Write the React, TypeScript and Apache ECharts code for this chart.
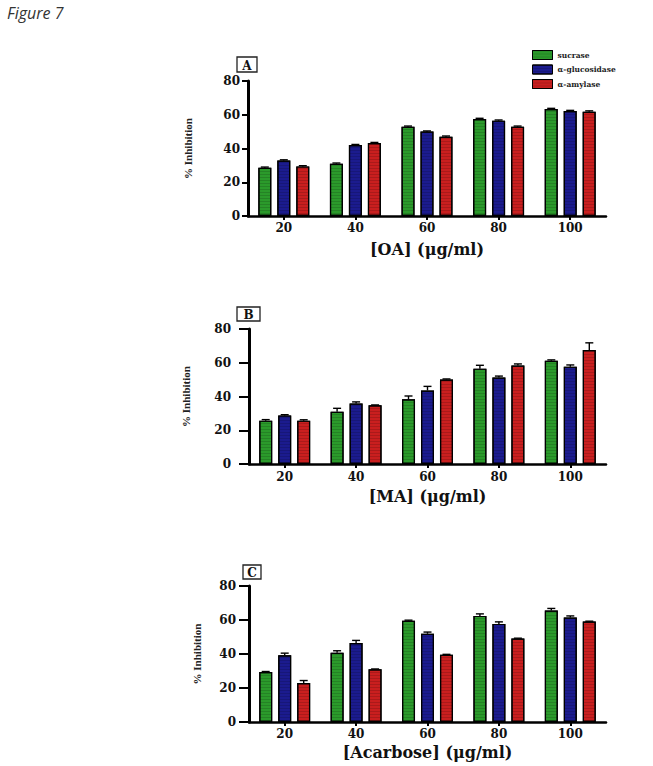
import React, { useEffect, useRef } from "react";
import * as echarts from "echarts";

const categories = ["20", "40", "60", "80", "100"];
const seriesNames = ["sucrase", "α-glucosidase", "α-amylase"];
const yTicks = [0, 20, 40, 60, 80];

// Panel A: OA
const oaSucrase = [28.6, 31.0, 52.9, 57.5, 63.4];
const oaGlucosidase = [32.9, 42.0, 50.0, 56.5, 62.2];
const oaAmylase = [29.4, 43.2, 47.0, 52.9, 61.8];
const oaSucraseErr = [0.4, 0.4, 0.4, 0.4, 0.4];
const oaGlucosidaseErr = [0.4, 0.4, 0.4, 0.4, 0.4];
const oaAmylaseErr = [0.4, 0.4, 0.4, 0.4, 0.5];

// Panel B: MA
const maSucrase = [25.7, 31.0, 38.3, 56.5, 61.2];
const maGlucosidase = [28.8, 35.8, 43.6, 51.3, 57.7];
const maAmylase = [25.7, 34.8, 50.1, 58.3, 67.5];
const maSucraseErr = [0.6, 2.0, 2.0, 2.0, 0.5];
const maGlucosidaseErr = [0.4, 1.0, 2.4, 0.8, 1.0];
const maAmylaseErr = [0.5, 0.2, 0.3, 1.0, 4.3];

// Panel C: Acarbose
const acSucrase = [29.4, 40.7, 59.6, 62.4, 65.6];
const acGlucosidase = [39.3, 46.4, 51.9, 57.7, 61.4];
const acAmylase = [22.9, 31.0, 39.5, 49.1, 59.1];
const acSucraseErr = [0.3, 1.2, 0.3, 1.2, 1.2];
const acGlucosidaseErr = [1.2, 1.6, 1.0, 1.2, 1.0];
const acAmylaseErr = [1.5, 0.2, 0.3, 0.2, 0.2];

const colors = ["#2b9a2b", "#1b1b8e", "#c91f1f"];
const BAR_W = 13;
const BAR_STEP = 19;

const panels = [
  {
    label: "A",
    xName: "[OA] (μg/ml)",
    grid: { left: 248, top: 81, width: 358, height: 135 },
    box: { x: 237, y: 57, w: 20, h: 15 },
    values: [oaSucrase, oaGlucosidase, oaAmylase],
    errs: [oaSucraseErr, oaGlucosidaseErr, oaAmylaseErr],
    yName: 55, tickLen: 6, labelMargin: 8, xLabelMargin: 6, xNameGap: 25,
  },
  {
    label: "B",
    xName: "[MA] (μg/ml)",
    grid: { left: 249, top: 329, width: 357, height: 135 },
    box: { x: 237, y: 307, w: 23, h: 14 },
    values: [maSucrase, maGlucosidase, maAmylase],
    errs: [maSucraseErr, maGlucosidaseErr, maAmylaseErr],
    yName: 58, tickLen: 10, labelMargin: 18, xLabelMargin: 7, xNameGap: 24,
  },
  {
    label: "C",
    xName: "[Acarbose] (μg/ml)",
    grid: { left: 249, top: 586, width: 357, height: 136 },
    box: { x: 243, y: 565, w: 18, h: 14 },
    values: [acSucrase, acGlucosidase, acAmylase],
    errs: [acSucraseErr, acGlucosidaseErr, acAmylaseErr],
    yName: 47, tickLen: 10, labelMargin: 13, xLabelMargin: 6, xNameGap: 22,
  },
];

const serif = "DejaVu Serif";

export default function App() {
  const ref = useRef<HTMLDivElement>(null);
  useEffect(() => {
    if (!ref.current) return;
    const chart = echarts.init(ref.current, null, { renderer: "svg" });
    const grids: any[] = [];
    const xAxes: any[] = [];
    const yAxes: any[] = [];
    const series: any[] = [];
    const graphics: any[] = [];

    panels.forEach((p, pi) => {
      grids.push({ ...p.grid, containLabel: false });
      xAxes.push({
        type: "category",
        gridIndex: pi,
        data: categories,
        name: p.xName,
        nameLocation: "middle",
        nameGap: p.xNameGap,
        nameTextStyle: { fontFamily: serif, fontWeight: "bold", fontSize: 16, color: "#111" },
        axisLine: { lineStyle: { color: "#000", width: 2.5 } },
        axisTick: { show: true, alignWithLabel: true, length: 4, lineStyle: { color: "#000", width: 2 } },
        axisLabel: { fontFamily: serif, fontWeight: "bold", fontSize: 12, color: "#111", margin: p.xLabelMargin },
      });
      yAxes.push({
        type: "value",
        gridIndex: pi,
        min: 0,
        max: 80,
        interval: 20,
        name: "% Inhibition",
        nameLocation: "middle",
        nameGap: p.yName,
        nameTextStyle: { fontFamily: "Liberation Serif", fontWeight: "bold", fontSize: 11, color: "#222" },
        splitLine: { show: false },
        axisLine: { show: true, lineStyle: { color: "#000", width: 3 } },
        axisTick: { show: true, length: p.tickLen, lineStyle: { color: "#000", width: 2 } },
        axisLabel: {
          fontFamily: serif, fontWeight: "bold", fontSize: 12, color: "#111", margin: p.labelMargin,
          formatter: (v: number) => (yTicks.includes(v) ? String(v) : ""),
        },
      });
      p.values.forEach((vals, si) => {
        series.push({
          type: "bar",
          name: seriesNames[si],
          xAxisIndex: pi,
          yAxisIndex: pi,
          data: vals,
          barWidth: BAR_W,
          barGap: "46%",
          itemStyle: {
            color: colors[si],
            borderColor: "#000",
            borderWidth: 1.2,
            decal: {
              symbol: "rect",
              symbolSize: 1,
              dashArrayX: [[1, 0]],
              dashArrayY: [1, 2],
              rotation: 0,
              color: "rgba(0,0,0,0.15)",
            },
          },
        });
      });
      p.values.forEach((vals, si) => {
        const errs = p.errs[si];
        series.push({
          type: "custom",
          name: "err-" + pi + "-" + si,
          xAxisIndex: pi,
          yAxisIndex: pi,
          z: 5,
          data: vals.map((v, i) => [i, v, errs[i]]),
          renderItem: (params: any, api: any) => {
            const idx = api.value(0);
            const v = api.value(1);
            const e = api.value(2);
            const top = api.coord([idx, v]);
            const end = api.coord([idx, v + e]);
            const cx = top[0] + (si - 1) * BAR_STEP;
            const style = { stroke: "#000", lineWidth: 1.4 };
            return {
              type: "group",
              children: [
                { type: "line", shape: { x1: cx, y1: top[1], x2: cx, y2: end[1] }, style },
                { type: "line", shape: { x1: cx - 4, y1: end[1], x2: cx + 4, y2: end[1] }, style },
              ],
            };
          },
        });
      });
      graphics.push({
        type: "rect",
        shape: { x: p.box.x, y: p.box.y, width: p.box.w, height: p.box.h },
        style: { fill: "#fff", stroke: "#222", lineWidth: 1.3 },
      });
      graphics.push({
        type: "text",
        x: p.box.x + p.box.w / 2,
        y: p.box.y + p.box.h / 2 + 1,
        style: {
          text: p.label,
          fontFamily: serif,
          fontWeight: "bold",
          fontSize: 12,
          fill: "#111",
          align: "center",
          verticalAlign: "middle",
        },
      });
    });

    graphics.push({
      type: "text",
      x: 7,
      y: 5,
      style: {
        text: "Figure 7",
        fontFamily: "Open Sans",
        fontStyle: "italic",
        fontSize: 16,
        fill: "#333",
      },
    });

    chart.setOption({
      animation: false,
      backgroundColor: "#fff",
      grid: grids,
      xAxis: xAxes,
      yAxis: yAxes,
      series,
      graphic: graphics,
      legend: {
        data: seriesNames,
        orient: "vertical",
        left: 527,
        top: 45,
        itemWidth: 20,
        itemHeight: 9,
        itemGap: 4.5,
        icon: "rect",
        itemStyle: { borderColor: "#000", borderWidth: 1 },
        textStyle: { fontFamily: serif, fontWeight: "bold", fontSize: 7.5, color: "#222", padding: [0, 0, 0, 0] },
        selectedMode: false,
      },
    });
    return () => chart.dispose();
  }, []);
  return (
    <div
      ref={ref}
      style={{ position: "fixed", left: 0, top: 0, width: 653, height: 766, background: "#fff" }}
    />
  );
}
